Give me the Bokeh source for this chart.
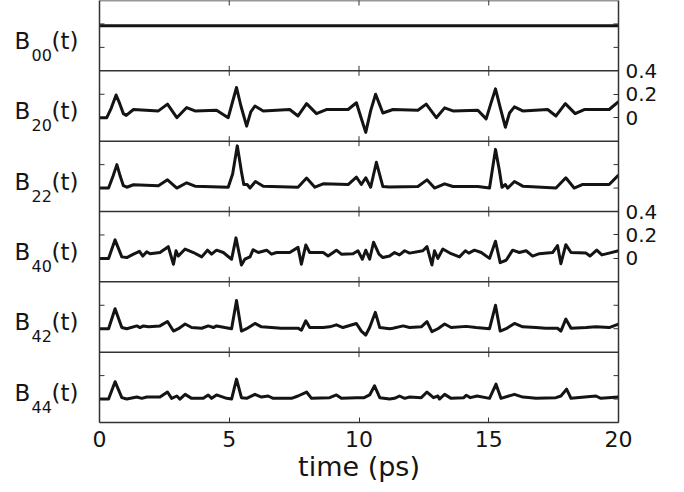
import math
from bokeh.plotting import figure
from bokeh.layouts import row
from bokeh.models import Range1d, LinearAxis, FixedTicker, Span
from bokeh.core.properties import value
from bokeh.embed import file_html
from bokeh.resources import INLINE

# ---------------- data (time in ps, value) ----------------
x_ticks = [0, 5, 10, 15, 20]
y_tick_values = [0, 0.2]
right_tick_values = [0, 0.2, 0.4]
right_tick_labels = ["0", "0.2", "0.4"]
labelled_panels = [1, 3]
names = ["00", "20", "22", "40", "42", "44"]

b00 = [(0, 0.185), (20, 0.185)]

b20 = [(0, 0), (0.28, 0), (0.45, 0.08), (0.64, 0.194), (0.78, 0.12), (0.92, 0.035), (1.03, 0.02),
       (1.31, 0.07), (2.27, 0.058), (2.62, 0.116), (2.98, 0), (3.36, 0.087), (3.68, 0.058),
       (4.51, 0.064), (4.96, 0), (5.12, 0.13), (5.28, 0.258), (5.45, 0.1), (5.67, -0.072),
       (5.83, 0.05), (5.99, 0.1), (6.31, 0.058), (7.33, 0.07), (7.65, 0.015), (7.98, 0.12),
       (8.36, 0.035), (8.74, 0.07), (9.58, 0.07), (9.9, 0.128), (10.08, 0.0), (10.26, -0.125),
       (10.45, 0.06), (10.64, 0.2), (10.78, 0.12), (10.92, 0.04), (11.31, 0.07), (12.27, 0.064),
       (12.59, 0.116), (12.98, 0), (13.3, 0.084), (13.62, 0.058), (14.58, 0.064), (14.9, -0.01),
       (15.08, 0.12), (15.26, 0.246), (15.45, 0.08), (15.64, -0.081), (15.8, 0.04), (15.99, 0.093),
       (16.31, 0.058), (17.27, 0.07), (17.59, 0.015), (17.95, 0.12), (18.33, 0.035), (18.68, 0.07),
       (19.64, 0.07), (20.0, 0.136)]

b22 = [(0, 0), (0.35, 0), (0.52, 0.1), (0.67, 0.2), (0.8, 0.1), (0.92, 0.02), (1.05, 0.007),
       (1.31, 0.028), (2.27, 0.02), (2.62, 0.07), (2.98, 0), (3.36, 0.045), (3.68, 0.016),
       (4.96, 0.007), (5.13, 0.12), (5.31, 0.36), (5.47, 0.14), (5.56, 0.03), (5.69, 0.03),
       (5.8, 0), (6.01, 0.056), (6.31, 0.016), (7.65, 0.007), (7.98, 0.085), (8.3, 0.007),
       (8.62, 0.036), (9.58, 0.03), (9.9, 0.094), (10.09, 0.03), (10.26, 0.088), (10.45, 0.007),
       (10.67, 0.22), (10.92, 0.013), (11.18, 0.01), (12.27, 0.013), (12.62, 0.07), (12.91, 0),
       (13.3, 0.036), (13.62, 0.013), (14.58, 0.013), (15.03, 0), (15.26, 0.33), (15.41, 0.15),
       (15.51, 0.007), (15.64, 0.03), (15.73, 0), (15.99, 0.056), (16.31, 0.016), (17.59, 0),
       (17.97, 0.088), (18.29, 0), (18.6, 0.03), (19.64, 0.03), (20.0, 0.11)]

b40 = [(0, 0), (0.35, 0), (0.6, 0.158), (0.86, 0.013), (1.05, 0.007), (1.31, 0.036), (1.54, 0.06),
       (1.67, 0.02), (1.82, 0.056), (1.95, 0.04), (2.33, 0.05), (2.65, 0.1), (2.85, -0.05),
       (2.95, 0.065), (3.04, 0.02), (3.3, 0.08), (3.62, 0.05), (3.94, 0.013), (4.16, 0.07),
       (4.32, 0.036), (4.51, 0.07), (4.77, 0.05), (5.09, -0.007), (5.26, 0.175), (5.47, -0.056),
       (5.6, -0.007), (5.8, 0.013), (5.92, 0.074), (6.12, 0.05), (6.44, 0.07), (6.63, 0.036),
       (6.82, 0.05), (7.33, 0.05), (7.65, 0.094), (7.78, -0.05), (7.95, 0.114), (8.1, 0.05),
       (8.62, 0.05), (8.81, 0.02), (9.13, 0.07), (9.32, 0.036), (9.77, 0.04), (9.96, 0.065),
       (10.13, -0.007), (10.26, 0.07), (10.41, -0.007), (10.56, 0.138), (10.77, 0.036),
       (10.92, 0.007), (11.18, 0.02), (11.37, 0.05), (11.56, 0.03), (11.76, 0.065), (11.95, 0.045),
       (12.46, 0.065), (12.62, 0.1), (12.81, -0.056), (12.91, 0.065), (13.04, 0), (13.23, 0.08),
       (13.55, 0.04), (13.87, 0.013), (14.1, 0.065), (14.23, 0.045), (14.45, 0.07), (14.71, 0.05),
       (15.03, 0), (15.26, 0.146), (15.44, -0.036), (15.67, -0.016), (15.92, 0.07), (16.18, 0.05),
       (16.44, 0.065), (16.69, 0.02), (16.95, 0.04), (17.46, 0.05), (17.65, 0.11), (17.78, -0.045),
       (17.97, 0.117), (18.17, 0.05), (18.75, 0.045), (18.9, 0.02), (19.16, 0.07), (19.36, 0.03),
       (19.64, 0.045), (20.0, 0.065)]

b42 = [(0, 0), (0.35, 0), (0.6, 0.17), (0.86, 0.01), (1.05, 0), (1.44, 0.024), (1.56, 0.01),
       (1.69, 0.024), (1.89, 0.016), (2.33, 0.024), (2.62, 0.062), (2.85, -0.02), (3.04, 0),
       (3.3, 0.04), (3.55, 0.01), (3.94, 0.004), (4.19, 0.024), (4.39, 0.01), (4.51, 0.024),
       (4.83, 0.01), (5.09, 0), (5.28, 0.24), (5.47, -0.02), (5.67, 0), (5.99, 0.045), (6.24, 0.016),
       (6.63, 0.01), (7.0, 0.004), (7.65, 0.005), (7.78, -0.013), (7.95, 0.068), (8.1, 0.01),
       (8.62, 0.01), (8.87, 0.016), (9.13, 0.033), (9.38, 0.01), (9.9, 0.045), (10.09, -0.02),
       (10.26, -0.054), (10.41, 0.01), (10.63, 0.14), (10.8, 0.01), (11.18, 0), (11.31, 0.004),
       (11.7, 0.024), (11.95, 0.01), (12.4, 0.016), (12.62, 0.06), (12.81, -0.025), (13.04, 0),
       (13.3, 0.04), (13.55, 0.01), (14.13, 0.02), (14.51, 0.01), (15.03, 0), (15.26, 0.2),
       (15.44, -0.02), (15.67, 0), (15.99, 0.045), (16.31, 0.016), (16.82, 0.01), (17.2, 0.004),
       (17.65, 0.004), (17.78, -0.02), (17.97, 0.082), (18.17, 0.004), (18.75, 0.01), (19.13, 0.016),
       (19.64, 0.01), (20.0, 0.04)]

b44 = [(0, 0), (0.35, 0), (0.6, 0.148), (0.86, 0.012), (1.05, 0), (1.44, 0.017), (1.63, 0.006),
       (1.82, 0.017), (2.33, 0.017), (2.62, 0.06), (2.78, 0.006), (2.98, 0.026), (3.1, 0),
       (3.3, 0.04), (3.55, 0.006), (4.0, 0.006), (4.19, 0.035), (4.32, 0.006), (4.51, 0.035),
       (4.9, 0.006), (5.09, 0), (5.28, 0.17), (5.47, 0.012), (5.67, 0.006), (5.99, 0.04),
       (6.24, 0.017), (6.5, 0.026), (6.69, 0.006), (7.4, 0.006), (7.65, 0.026), (7.98, 0.06),
       (8.17, 0.006), (8.87, 0.012), (9.13, 0.035), (9.32, 0.006), (9.9, 0.012), (10.2, 0.012),
       (10.41, 0.035), (10.6, 0.113), (10.8, 0.012), (11.18, 0), (11.37, 0.006), (11.56, 0.026),
       (11.76, 0.006), (11.95, 0.017), (12.4, 0.012), (12.62, 0.06), (12.87, 0.012), (13.04, 0.026),
       (13.1, 0), (13.3, 0.04), (13.55, 0.006), (14.04, 0.012), (14.13, 0.032), (14.29, 0.012),
       (14.55, 0.026), (15.03, 0.006), (15.28, 0.127), (15.47, 0.006), (15.99, 0.04), (16.31, 0.017),
       (16.63, 0.012), (16.82, 0.006), (17.59, 0.012), (17.78, 0.026), (18.0, 0.084), (18.17, 0.006),
       (19.13, 0.026), (19.32, 0.006), (20.0, 0.017)]

series = [b00, b20, b22, b40, b42, b44]

# ---------------- layout ----------------
FONT = "DejaVu Sans"
INK = "#141414"
AX = "#333333"
V_MIN, V_MAX = -0.2, 0.4
SPAN = V_MAX - V_MIN
N = len(series)
U_TOP = N
BOTTOM = 70
TOTAL_H = 492
LEFT_W = 89


def u(b, v):
    return b + (v - V_MIN) / SPAN


def panel_ranges():
    return {f"p{i}": Range1d(V_MIN - SPAN * (N - 1 - i), V_MIN + SPAN * (U_TOP - (N - 1 - i)))
            for i in range(N)}


# ---- left strip with the B_lm(t) labels ----
lab = figure(width=LEFT_W, height=TOTAL_H, output_backend="svg", toolbar_location=None,
             x_range=Range1d(0, LEFT_W), y_range=Range1d(0, U_TOP),
             x_axis_location=None, y_axis_location=None,
             min_border_left=0, min_border_right=0, min_border_top=0, min_border_bottom=BOTTOM)
lab.outline_line_color = None
lab.grid.visible = False
lab.extra_y_ranges = panel_ranges()
for i, nm in enumerate(names):
    rn = f"p{i}"
    lab.text(x=[14], y=[0.054], text=["B"], y_range_name=rn, text_font=value(FONT),
             text_font_size="23px", text_baseline="alphabetic", text_color=INK)
    lab.text(x=[31], y=[-0.066], text=[nm], y_range_name=rn, text_font=value(FONT),
             text_font_size="16px", text_baseline="alphabetic", text_color=INK)
    lab.text(x=[51], y=[0.054], text=["(t)"], y_range_name=rn, text_font=value(FONT),
             text_font_size="23px", text_baseline="alphabetic", text_color=INK)

# ---- main stacked panels ----
p = figure(width=684 - LEFT_W, height=TOTAL_H, output_backend="svg", toolbar_location=None,
           x_range=Range1d(0, 20), y_range=Range1d(0, U_TOP),
           min_border_left=10, min_border_right=66, min_border_top=0, min_border_bottom=BOTTOM)
p.outline_line_color = None
p.grid.visible = False
p.extra_y_ranges = panel_ranges()

# left border line (ticks drawn as clipped dashes below)
ya = p.yaxis[0]
ya.ticker = FixedTicker(ticks=[])
ya.major_tick_out = 0
ya.major_label_standoff = 0
ya.axis_line_width = 1.5
ya.axis_line_color = AX

# right axis with labels on panels 2 and 4
right_ticks = []
overrides = {}
plain_right = []
for i in range(N):
    b = N - 1 - i
    if i in labelled_panels:
        for k, v in enumerate(right_tick_values):
            uu = u(b, v)
            right_ticks.append(uu)
            overrides[uu] = right_tick_labels[k]
    else:
        plain_right += [u(b, v) for v in y_tick_values]
ra = LinearAxis(ticker=FixedTicker(ticks=right_ticks), major_label_overrides=overrides,
                major_tick_in=5, major_tick_out=0, minor_tick_line_color=None,
                major_label_standoff=7, major_label_text_font=FONT,
                major_label_text_font_size="20px", major_label_text_color=INK,
                axis_line_width=1.5, axis_line_color=AX, major_tick_line_color=AX)
p.add_layout(ra, "right")

# bottom axis
xa = p.xaxis[0]
xa.ticker = FixedTicker(ticks=x_ticks)
xa.major_tick_in = 5
xa.major_tick_out = 0
xa.minor_tick_line_color = None
xa.major_label_standoff = 8
xa.major_label_text_font = FONT
xa.major_label_text_font_size = "22px"
xa.major_label_text_color = INK
xa.axis_label = "time (ps)"
xa.axis_label_standoff = 1
xa.axis_label_text_font = FONT
xa.axis_label_text_font_size = "27px"
xa.axis_label_text_font_style = "normal"
xa.axis_label_text_color = INK
xa.axis_line_width = 1.5
xa.axis_line_color = AX
xa.major_tick_line_color = AX

# panel separators with inward x ticks on both sides
for b in range(1, N + 1):
    p.add_layout(Span(location=b, dimension="width", line_color=AX, line_width=1.5))
inner_x = x_ticks[1:-1]
p.scatter(x=[t for b in range(1, N + 1) for t in inner_x],
          y=[b for b in range(1, N + 1) for t in inner_x],
          marker="dash", angle=math.pi / 2, size=10, line_color=AX, line_width=1)

# inward y ticks (half of each dash is clipped by the frame)
left_ticks = [u(b, v) for b in range(N) for v in y_tick_values]
p.scatter(x=[x_ticks[0]] * len(left_ticks), y=left_ticks, marker="dash", size=10,
          line_color=AX, line_width=1)
p.scatter(x=[x_ticks[-1]] * len(plain_right), y=plain_right, marker="dash", size=10,
          line_color=AX, line_width=1)

# curves
for i, s in enumerate(series):
    p.line([a for a, _ in s], [v for _, v in s], y_range_name=f"p{i}",
           line_width=3, line_color=INK, line_join="round")

layout = row(lab, p)
open("out.html", "w").write(file_html(layout, INLINE))
